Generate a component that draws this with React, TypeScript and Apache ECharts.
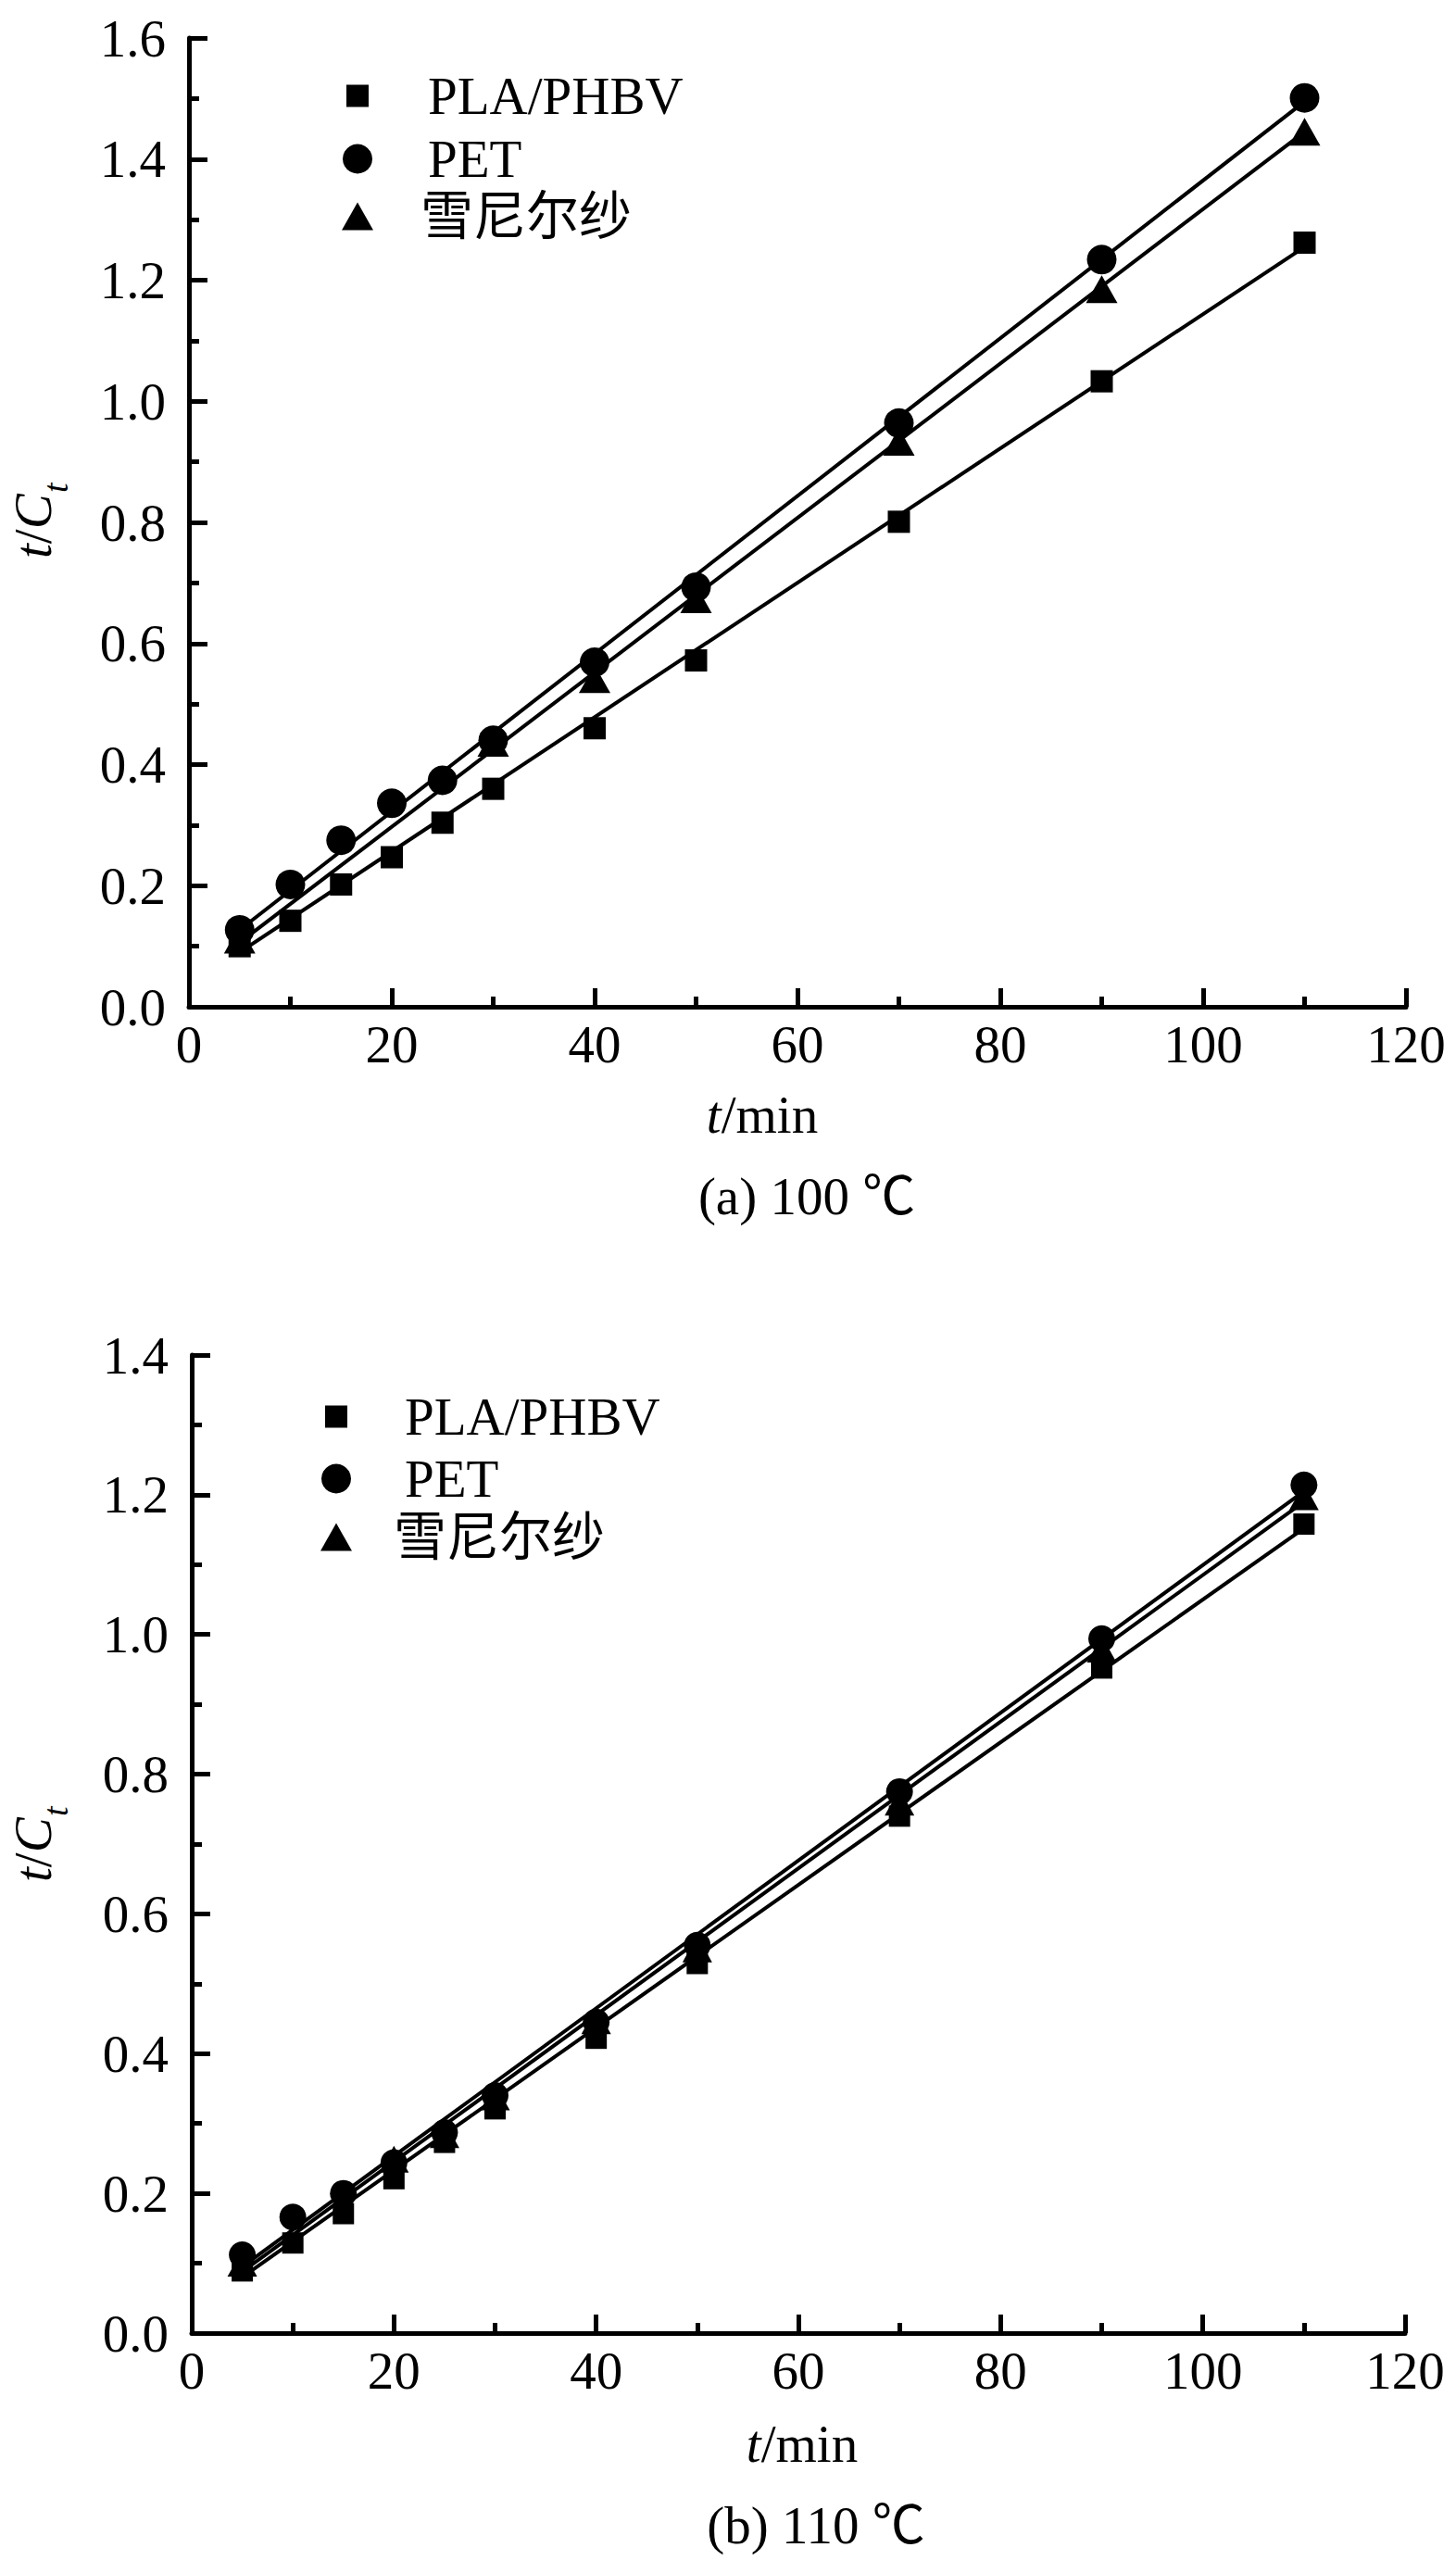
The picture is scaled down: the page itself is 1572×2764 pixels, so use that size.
import React, { useEffect, useRef } from "react";
import * as echarts from "echarts";

// ---- data ----
const timeMin = [5, 10, 15, 20, 25, 30, 40, 50, 70, 90, 110];

// (a) 100 ℃
const plaA = [0.1, 0.142, 0.202, 0.247, 0.304, 0.36, 0.46, 0.572, 0.801, 1.033, 1.262];
const petA = [0.127, 0.202, 0.275, 0.336, 0.374, 0.44, 0.569, 0.693, 0.964, 1.234, 1.501];
const snowTimeA = [5, 30, 40, 50, 70, 90, 110];
const snowA = [0.111, 0.436, 0.541, 0.673, 0.933, 1.185, 1.445];

// (b) 110 ℃
const plaB = [0.089, 0.129, 0.171, 0.221, 0.273, 0.321, 0.422, 0.529, 0.74, 0.952, 1.158];
const petB = [0.112, 0.166, 0.2, 0.244, 0.287, 0.34, 0.445, 0.555, 0.775, 0.994, 1.214];
const snowTimeB = [5, 20, 25, 30, 40, 50, 70, 90, 110];
const snowB = [0.1, 0.249, 0.284, 0.338, 0.447, 0.55, 0.76, 0.979, 1.197];

// fitted straight lines (end points)
const fitTime = [5, 110];
const fitPlaA = [0.09, 1.255];
const fitPetA = [0.127, 1.495];
const fitSnowA = [0.106, 1.445];
const fitPlaB = [0.08, 1.152];
const fitPetB = [0.095, 1.205];
const fitSnowB = [0.088, 1.19];

const seriesNames = ["PLA/PHBV", "PET", "雪尼尔纱"];
const captions = ["(a) 100 ℃", "(b) 110 ℃"];
const xTitle = "{it|t}{n|/min}";
const yTitleMain = "{it|t}{n|/}{it|C}";
const yTitleSub = "t";
const xRange = [0, 120, 20];
const yRangeA = [0, 1.6, 0.2];
const yRangeB = [0, 1.4, 0.2];

const FONT = "'Liberation Serif', 'Times New Roman', 'Noto Sans CJK SC', serif";
const FS = 57;
const AXW = 5;

const zip = (xs: number[], ys: number[]) => xs.map((x, i) => [x, ys[i]]);

function xAxisCfg(gridIndex: number, gap: number, pad: number[]) {
  return {
    type: "value",
    gridIndex,
    min: xRange[0],
    max: xRange[1],
    interval: xRange[2],
    name: xTitle,
    nameLocation: "middle",
    nameGap: gap,
    nameTextStyle: {
      fontFamily: FONT,
      fontSize: FS,
      color: "#000",
      padding: pad,
      rich: {
        it: { fontFamily: FONT, fontSize: FS, fontStyle: "italic", color: "#000" },
        n: { fontFamily: FONT, fontSize: FS, color: "#000" },
      },
    },
    axisLine: { show: true, onZero: false, lineStyle: { color: "#000", width: AXW } },
    axisTick: { show: true, inside: true, length: 20, lineStyle: { color: "#000", width: AXW } },
    minorTick: { show: true, splitNumber: 2, length: 11, lineStyle: { color: "#000", width: AXW } },
    splitLine: { show: false },
    axisLabel: { fontFamily: FONT, fontSize: FS, color: "#000", margin: 12 },
  };
}

function yAxisCfg(gridIndex: number, range: number[]) {
  return {
    type: "value",
    gridIndex,
    min: range[0],
    max: range[1],
    interval: range[2],
    axisLine: { show: true, onZero: false, lineStyle: { color: "#000", width: AXW } },
    axisTick: { show: true, inside: true, length: 20, lineStyle: { color: "#000", width: AXW } },
    minorTick: { show: true, splitNumber: 2, length: 11, lineStyle: { color: "#000", width: AXW } },
    splitLine: { show: false },
    axisLabel: {
      fontFamily: FONT,
      fontSize: FS,
      color: "#000",
      margin: 25,
      formatter: (v: number) => v.toFixed(1),
    },
  };
}

function yTitle(cy: number) {
  return {
    type: "group",
    x: 35,
    y: cy,
    rotation: Math.PI / 2,
    children: [
      {
        type: "text",
        x: -41,
        y: 0,
        style: {
          text: yTitleMain,
          fontFamily: FONT,
          fontSize: FS,
          fill: "#000",
          align: "left",
          verticalAlign: "middle",
          rich: {
            it: { fontFamily: FONT, fontSize: FS, fontStyle: "italic", fill: "#000" },
            n: { fontFamily: FONT, fontSize: FS, fill: "#000" },
          },
        },
      },
      {
        type: "text",
        x: 30,
        y: 25,
        style: {
          text: yTitleSub,
          fontFamily: FONT,
          fontSize: 38,
          fontStyle: "italic",
          fill: "#000",
          align: "left",
          verticalAlign: "middle",
        },
      },
    ],
  };
}

function fitLine(name: string, idx: number, ys: number[]) {
  return {
    type: "line",
    name: name + " fit",
    xAxisIndex: idx,
    yAxisIndex: idx,
    data: zip(fitTime, ys),
    symbol: "none",
    lineStyle: { color: "#000", width: 4 },
    z: 2,
  };
}

function scatter(name: string, idx: number, xs: number[], ys: number[], symbol: string, size: any) {
  return {
    type: "scatter",
    name,
    xAxisIndex: idx,
    yAxisIndex: idx,
    data: zip(xs, ys),
    symbol,
    symbolSize: size,
    itemStyle: { color: "#000", opacity: 1 },
    z: 3,
  };
}

function legendItem(name: string, icon: string, left: number, top: number, w: number, h: number, pad: number) {
  return {
    data: [{ name, icon }],
    left,
    top,
    padding: 0,
    itemWidth: w,
    itemHeight: h,
    selectedMode: false,
    textStyle: { fontFamily: FONT, fontSize: FS, color: "#000", padding: [0, 0, 0, pad] },
  };
}

export default function App() {
  const ref = useRef<HTMLDivElement>(null);

  useEffect(() => {
    if (!ref.current) return;
    const chart = echarts.init(ref.current, undefined, { renderer: "svg" });
    chart.setOption({
      animation: false,
      backgroundColor: "#fff",
      grid: [
        { left: 204, top: 41, width: 1314, height: 1046, containLabel: false },
        { left: 207, top: 1463, width: 1310, height: 1056, containLabel: false },
      ],
      xAxis: [xAxisCfg(0, 88, [0, 76, 0, 0]), xAxisCfg(1, 91, [0, 0, 0, 8])],
      yAxis: [yAxisCfg(0, yRangeA), yAxisCfg(1, yRangeB)],
      legend: [
        legendItem(seriesNames[0], "rect", 374, 75, 24, 24, 59),
        legendItem(seriesNames[1], "circle", 370, 143, 32, 32, 55),
        legendItem(seriesNames[2], "triangle", 369, 205, 34, 30, 46),
        legendItem(seriesNames[0], "rect", 351, 1501, 24, 24, 57),
        legendItem(seriesNames[1], "circle", 347, 1568, 32, 32, 53),
        legendItem(seriesNames[2], "triangle", 346, 1631, 34, 30, 40),
      ],
      series: [
        fitLine(seriesNames[0], 0, fitPlaA),
        fitLine(seriesNames[1], 0, fitPetA),
        fitLine(seriesNames[2], 0, fitSnowA),
        scatter(seriesNames[0], 0, timeMin, plaA, "rect", 24),
        scatter(seriesNames[2], 0, snowTimeA, snowA, "triangle", [34, 30]),
        scatter(seriesNames[1], 0, timeMin, petA, "circle", 32),
        fitLine(seriesNames[0], 1, fitPlaB),
        fitLine(seriesNames[1], 1, fitPetB),
        fitLine(seriesNames[2], 1, fitSnowB),
        scatter(seriesNames[0], 1, timeMin, plaB, "rect", 23),
        scatter(seriesNames[2], 1, snowTimeB, snowB, "triangle", [32, 29]),
        scatter(seriesNames[1], 1, timeMin, petB, "circle", 29),
      ],
      graphic: [
        yTitle(562),
        yTitle(1991),
        {
          type: "text",
          x: 871,
          y: 1291,
          style: { text: captions[0], fontFamily: FONT, fontSize: FS, fill: "#000", align: "center", verticalAlign: "middle" },
        },
        {
          type: "text",
          x: 881,
          y: 2726,
          style: { text: captions[1], fontFamily: FONT, fontSize: FS, fill: "#000", align: "center", verticalAlign: "middle" },
        },
      ],
    });
    return () => chart.dispose();
  }, []);

  return (
    <div
      ref={ref}
      style={{ position: "absolute", left: 0, top: 0, width: 1572, height: 2764, background: "#fff" }}
    />
  );
}
